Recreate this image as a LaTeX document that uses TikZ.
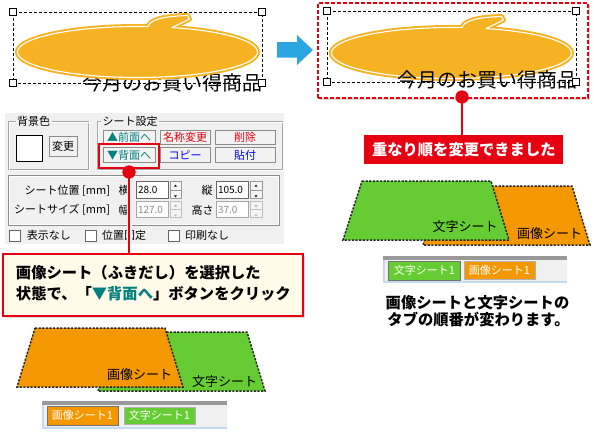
\documentclass[tikz,border=0pt]{standalone}
\usepackage{fontspec}
\setmainfont{Noto Sans CJK JP}
\definecolor{bubbleor}{HTML}{F5B324}
\definecolor{sheetor}{HTML}{F39800}
\definecolor{sheetgr}{HTML}{66CC33}
\definecolor{redc}{HTML}{E60012}
\definecolor{arrowbl}{HTML}{2CA6E0}
\definecolor{tealc}{HTML}{00807F}
\definecolor{cream}{HTML}{FFFBE8}
\definecolor{panelg}{HTML}{F0F0F0}
\definecolor{btnblue}{HTML}{0000FF}
\definecolor{tabblue}{HTML}{C5D9F1}
\newcommand{\bubblepath}{(-73.3:120 and 25.5) arc[start angle=-73.3, end angle=275, x radius=120, y radius=25.5] .. controls (13,-31) and (20,-35.5) .. (50,-36.5) -- (52,-33) -- cycle}
\begin{document}
\begin{tikzpicture}[x=1pt,y=-1pt,
  every node/.style={inner sep=0pt, outer sep=0pt},
  handle/.style={draw=black, fill=white, line width=0.7pt, minimum size=7pt},
  selbox/.style={draw=black, line width=0.8pt, dash pattern=on 3pt off 2pt},
  sheet/.style={draw=black!85, line width=1.5pt, dash pattern=on 2.2pt off 1.4pt},
  sheettxt/.style={font=\fontsize{13}{14}\selectfont},
  titletxt/.style={font=\fontsize{20}{22}\selectfont},
  uitxt/.style={font=\fontsize{11}{12}\selectfont},
  numtxt/.style={font=\fontsize{10}{12}\selectfont},
  uibtn/.style={draw=black!45, fill=black!5, line width=0.6pt, font=\fontsize{11}{12}\selectfont},
  inbox/.style={draw=black!60, fill=white, line width=0.6pt},
  spinbtn/.style={draw=black!40, fill=black!4, line width=0.5pt},
  chk/.style={draw=black!60, fill=white, line width=0.6pt, minimum size=11pt},
  tabst/.style={text=white, font=\fontsize{11}{12}\selectfont, draw=black!45, line width=1pt},
  dotst/.style={circle, fill=redc, minimum size=13pt},
  bigtxt/.style={font=\bfseries\fontsize{15.3}{18}\selectfont},
  redline/.style={draw=redc, line width=1.6pt}
]
\useasboundingbox (0,0) rectangle (594,431);
\fill[white] (0,0) rectangle (594,431);

% ---------- left bubble panel ----------
\node[titletxt] (titleL) at (172.5,82.5) {今月のお買い得商品};
\begin{scope}[shift={(137.5,52)}]
  \fill[bubbleor] \bubblepath;
  \draw[bubbleor, line width=5pt, line join=round] \bubblepath;
  \draw[white, line width=1.1pt, line join=round] \bubblepath;
\end{scope}
\node[selbox, minimum width=249pt, minimum height=71pt] (selL) at (137.5,47.5) {};
\node[handle] (hL1) at (selL.north west) {};
\node[handle] (hL2) at (selL.north east) {};
\node[handle] (hL3) at (selL.south west) {};
\node[handle] (hL4) at (selL.south east) {};

% ---------- arrow ----------
\fill[arrowbl] (277,42) -- (297,42) -- (297,35) -- (313,50) -- (297,65) -- (297,57.5) -- (277,57.5) -- cycle;

% ---------- right bubble panel ----------
\fill[black!14] (319.5,4) rectangle (590,99.5);
\node[draw=redc, fill=white, line width=2pt, dash pattern=on 4pt off 2pt, minimum width=270pt, minimum height=95pt] (frameR) at (453.3,50.2) {};
\begin{scope}[shift={(451.5,53)}]
  \fill[bubbleor] \bubblepath;
  \draw[bubbleor, line width=5pt, line join=round] \bubblepath;
  \draw[white, line width=1.1pt, line join=round] \bubblepath;
\end{scope}
\node[titletxt] (titleR) at (487.5,80) {今月のお買い得商品};
\node[selbox, minimum width=249pt, minimum height=71pt] (selR) at (451.5,46.5) {};
\node[handle] (hR1) at (selR.north west) {};
\node[handle] (hR2) at (selR.north east) {};
\node[handle] (hR3) at (selR.south west) {};
\node[handle] (hR4) at (selR.south east) {};

% ---------- right result ----------
\node[fill=redc, text=white, bigtxt, minimum width=199pt, minimum height=29pt] (doneLbl) at (463.8,149.5) {重なり順を変更できました};
\node[dotst] (dotR) at (462,97) {};
\draw[redline] (dotR.center) -- (dotR.center |- doneLbl.north);
\node[dotst] at (dotR) {};

\fill[sheetor] (441,186) -- (572,186) -- (590,245) -- (423,245) -- cycle;
\draw[sheet] (441,186) -- (572,186) -- (590,245) -- (423,245) -- cycle;
\fill[sheetgr] (362,181) -- (491,181) -- (509,240) -- (343,240) -- cycle;
\draw[sheet] (362,181) -- (491,181) -- (509,240) -- (343,240) -- cycle;
\node[sheettxt] (txtSheetR) at (465,227) {文字シート};
\node[sheettxt] (imgSheetR) at (549.5,234) {画像シート};

\fill[panelg] (383,256) rectangle (567,283);
\fill[black!40] (383,256) rectangle (567,259.5);
\draw[tabblue, line width=2pt] (384,259.5) -- (384,282) -- (567,282);
\node[tabst, fill=sheetgr, draw=black!55, minimum width=72pt, minimum height=19pt] (tabR1) at (424.5,270.5) {文字シート1};
\node[tabst, fill=sheetor, draw=black!30, minimum width=71pt, minimum height=18pt] (tabR2) at (499.5,270.5) {画像シート1};

\node[bigtxt] (noteR1) at (477.5,302.5) {画像シートと文字シートの};
\node[bigtxt] (noteR2) at (478.5,320) {タブの順番が変わります。};

% ---------- left UI panel ----------
\fill[panelg] (5,113) rectangle (284,244);
% group 1
\draw[black!35] (8.5,121.5) rectangle (88.5,169.5);
\draw[white] (9.5,122.5) rectangle (89.5,170.5);
\node[uitxt, fill=panelg, inner xsep=1.5pt, inner ysep=1pt] (grp1) at (33.5,121.5) {背景色};
\node[draw=black, fill=white, line width=0.8pt, minimum width=26pt, minimum height=26pt] (colorSq) at (29,148) {};
\node[uibtn, minimum width=28pt, minimum height=20pt] (btnChg) at (63,146.5) {変更};
% group 2
\draw[black!35] (97.5,121.5) rectangle (282.5,169.5);
\draw[white] (98.5,122.5) rectangle (283.5,170.5);
\node[uitxt, fill=panelg, inner xsep=1.5pt, inner ysep=1pt] (grp2) at (130,121.5) {シート設定};
\node[uibtn, text=tealc, minimum width=52pt, minimum height=14pt] (btnFront) at (129,137) {▲前面へ};
\node[uibtn, text=redc, minimum width=50pt, minimum height=14pt] (btnName) at (185,137) {名称変更};
\node[uibtn, text=redc, minimum width=60pt, minimum height=14pt] (btnDel) at (245,137) {削除};
\node[uibtn, text=tealc, minimum width=52pt, minimum height=15pt] (btnBack) at (129,155) {▼背面へ};
\node[uibtn, text=btnblue, minimum width=50pt, minimum height=15pt] (btnCopy) at (185,155) {コピー};
\node[uibtn, text=btnblue, minimum width=60pt, minimum height=15pt] (btnPaste) at (245,155) {貼付};
\node[draw=redc, line width=1.4pt, minimum width=60pt, minimum height=24pt] (hiBack) at (129,156) {};
% group 3
\draw[black!45] (8.5,175.5) rectangle (279.5,225.5);
\draw[white] (9.5,176.5) rectangle (278.5,224.5);
\node[uitxt, anchor=east] (posLbl) at (110,190.5) {シート位置 [mm]};
\node[uitxt] (yokoLbl) at (124,190.5) {横};
\node[inbox, minimum width=32pt, minimum height=17pt] (inX) at (152,190) {};
\node[numtxt, anchor=west] at ([xshift=2pt]inX.west) {28.0};
\node[spinbtn, minimum width=11pt, minimum height=8.5pt] (spX1) at (175.5,185.7) {};
\node[spinbtn, minimum width=11pt, minimum height=8.5pt] (spX2) at (175.5,194.3) {};
\node[uitxt] (tateLbl) at (207,190.5) {縦};
\node[inbox, minimum width=32pt, minimum height=17pt] (inY) at (232,190) {};
\node[numtxt, anchor=west] at ([xshift=2pt]inY.west) {105.0};
\node[spinbtn, minimum width=12pt, minimum height=8.5pt] (spY1) at (256,185.7) {};
\node[spinbtn, minimum width=12pt, minimum height=8.5pt] (spY2) at (256,194.3) {};
\node[uitxt, anchor=east] (sizeLbl) at (110,210) {シートサイズ [mm]};
\node[uitxt] (habaLbl) at (124,210) {幅};
\node[inbox, draw=black!35, minimum width=32pt, minimum height=16pt] (inW) at (152,209.5) {};
\node[numtxt, text=black!45, anchor=west] at ([xshift=2pt]inW.west) {127.0};
\node[spinbtn, draw=black!25, minimum width=11pt, minimum height=8pt] (spW1) at (175.5,205.5) {};
\node[spinbtn, draw=black!25, minimum width=11pt, minimum height=8pt] (spW2) at (175.5,213.5) {};
\node[uitxt] (takaLbl) at (202.5,210) {高さ};
\node[inbox, draw=black!35, minimum width=32pt, minimum height=16pt] (inH) at (232,209.5) {};
\node[numtxt, text=black!45, anchor=west] at ([xshift=2pt]inH.west) {37.0};
\node[spinbtn, draw=black!25, minimum width=12pt, minimum height=8pt] (spH1) at (256,205.5) {};
\node[spinbtn, draw=black!25, minimum width=12pt, minimum height=8pt] (spH2) at (256,213.5) {};
\foreach \n/\c in {spX1/black,spY1/black} {\fill[\c] ([yshift=-1pt]\n.center) -- ++(-1.6,0) -- ++(1.6,-2) -- ++(1.6,2) -- cycle;}
\foreach \n/\c in {spX2/black,spY2/black} {\fill[\c] ([yshift=-1pt]\n.center) -- ++(-1.6,0) -- ++(1.6,2) -- ++(1.6,-2) -- cycle;}
\foreach \n in {spW1,spH1} {\fill[black!30] ([yshift=-1pt]\n.center) -- ++(-1.6,0) -- ++(1.6,-2) -- ++(1.6,2) -- cycle;}
\foreach \n in {spW2,spH2} {\fill[black!30] ([yshift=-1pt]\n.center) -- ++(-1.6,0) -- ++(1.6,2) -- ++(1.6,-2) -- cycle;}
% checkboxes
\node[chk] (chk1) at (15,235.5) {};
\node[uitxt, anchor=west] (chk1t) at (27,235) {表示なし};
\node[chk] (chk2) at (90.5,235.5) {};
\node[uitxt, anchor=west] (chk2t) at (102,235) {位置固定};
\node[chk] (chk3) at (173.5,235.5) {};
\node[uitxt, anchor=west] (chk3t) at (185,235) {印刷なし};

% ---------- callout ----------
\fill[black!12] (5,256) rectangle (305,318);
\node[draw=redc, fill=cream, line width=1.4pt, minimum width=300pt, minimum height=62pt] (callout) at (153,285) {};
\node[bigtxt, anchor=west] (callT1) at (16,273) {画像シート（ふきだし）を選択した};
\node[bigtxt, anchor=west] (callT2) at (16,294) {状態で、「\textcolor{tealc}{▼背面へ}」ボタンをクリック};
\node[dotst] (dotL) at (129,172) {};
\draw[panelg, line width=5pt] (129,179) -- (129,243.5);
\draw[redline] (dotL.center) -- (dotL.center |- callout.north);
\node[dotst] at (dotL) {};

% ---------- left sheets ----------
\fill[sheetgr] (116,332) -- (247,332) -- (265,391) -- (98,391) -- cycle;
\draw[sheet] (116,332) -- (247,332) -- (265,391) -- (98,391) -- cycle;
\fill[sheetor] (35,328) -- (165,328) -- (183,387) -- (17,387) -- cycle;
\draw[sheet] (35,328) -- (165,328) -- (183,387) -- (17,387) -- cycle;
\node[sheettxt] (imgSheetL) at (139.5,375) {画像シート};
\node[sheettxt] (txtSheetL) at (224.5,382) {文字シート};

\fill[panelg] (42,401) rectangle (227,429);
\fill[black!40] (42,401) rectangle (227,404.5);
\draw[tabblue, line width=2pt] (43,404.5) -- (43,428) -- (227,428);
\node[tabst, fill=sheetor, draw=black!55, minimum width=71pt, minimum height=19pt] (tabL1) at (82.5,415.5) {画像シート1};
\node[tabst, fill=sheetgr, draw=black!30, minimum width=71pt, minimum height=17pt] (tabL2) at (159.5,415.5) {文字シート1};
\end{tikzpicture}
\end{document}
